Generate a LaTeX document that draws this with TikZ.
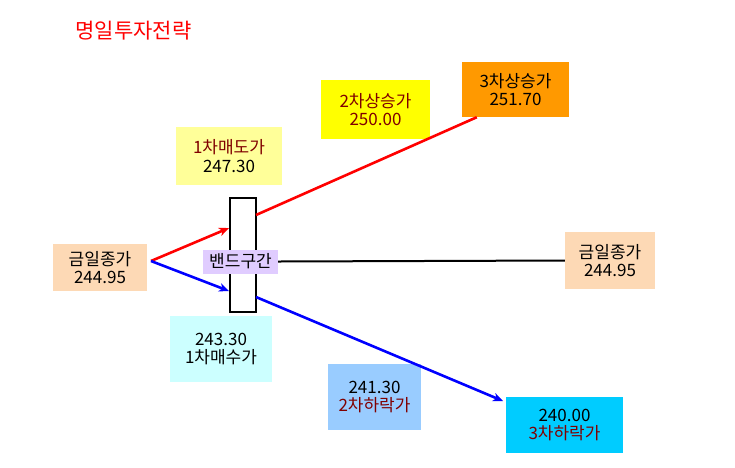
\documentclass[tikz,border=0pt]{standalone}
\usepackage{fontspec}
\setmainfont{Noto Sans CJK KR}
\usetikzlibrary{arrows.meta}
\definecolor{txtred}{HTML}{800000}
\definecolor{sellfill}{HTML}{FFFF99}
\definecolor{upfill}{HTML}{FFFF00}
\definecolor{topfill}{HTML}{FF9900}
\definecolor{closefill}{HTML}{FDD9B5}
\definecolor{bandfill}{HTML}{E0CCFF}
\definecolor{buyfill}{HTML}{CCFFFF}
\definecolor{downfill}{HTML}{99CCFF}
\definecolor{lowfill}{HTML}{00CCFF}
\definecolor{upline}{HTML}{FF0000}
\definecolor{downline}{HTML}{0000FF}

\begin{document}
\begin{tikzpicture}[x=1pt,y=-1pt]
\tikzset{pbox/.style = {shape=rectangle,inner sep=0pt,align=center,font=\fontsize{17}{18.5}\selectfont}}
\tikzset{edge/.style = {->,> = {Stealth[length=10pt,width=8.5pt,inset=3pt]},line width=2.6pt}}
\useasboundingbox (0,0) rectangle (735,467);

\node[text=red,font=\fontsize{21}{23}\selectfont] (title) at (133.5,31) {명일투자전략};

\node[pbox,fill=sellfill,minimum width=106pt,minimum height=58pt] (sell1) at (229,156) {\textcolor{txtred}{1차매도가}\\247.30};
\node[pbox,fill=upfill,minimum width=109pt,minimum height=59pt,text=txtred] (up2) at (375.5,109.5) {2차상승가\\250.00};
\node[pbox,fill=topfill,minimum width=107pt,minimum height=55pt] (up3) at (515.5,89.5) {3차상승가\\251.70};
\node[pbox,fill=closefill,minimum width=94pt,minimum height=47pt] (closeL) at (100,267.5) {금일종가\\244.95};
\node[pbox,fill=closefill,minimum width=90pt,minimum height=57pt] (closeR) at (610,260.5) {금일종가\\244.95};
\node[pbox,fill=buyfill,minimum width=102pt,minimum height=66pt] (buy1) at (221,349) {243.30\\1차매수가};
\node[pbox,fill=downfill,minimum width=93pt,minimum height=66pt] (down2) at (374.5,397) {241.30\\\textcolor{txtred}{2차하락가}};
\node[pbox,fill=lowfill,minimum width=117pt,minimum height=56pt] (down3) at (564.5,425) {240.00\\\textcolor{txtred}{3차하락가}};

\node[draw,line width=2pt,minimum width=26pt,minimum height=114pt,inner sep=0pt] (band) at (242.5,255) {};
\node[pbox,fill=bandfill,minimum width=75pt,minimum height=24pt] (bandlbl) at (240.5,261.5) {밴드구간};

\coordinate (o) at (151,261);
\coordinate (rin) at (229,228);
\coordinate (rout) at (256,215);
\coordinate (rend) at ([xshift=15pt]up3.south west);
\coordinate (bin) at (229,291);
\coordinate (bout) at (256,297);
\coordinate (bend) at (503,401);

\draw[edge][upline] (o) to (rin);
\draw[line width=2.6pt][upline] (rout) to (rend);
\draw[edge][downline] (o) to (bin);
\draw[edge][downline] (bout) to (bend);
\draw[line width=2pt] (bandlbl.east) to (closeR.west);
\end{tikzpicture}
\end{document}
